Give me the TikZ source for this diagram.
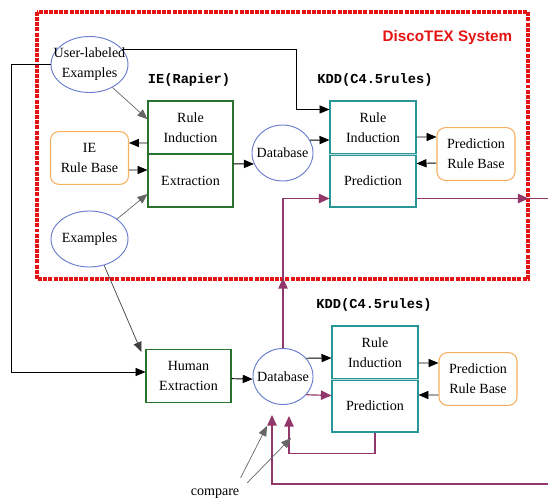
\documentclass[tikz,border=0pt]{standalone}
\usepackage{fontspec}
\setmainfont{Liberation Serif}
\setsansfont{Liberation Sans}
\setmonofont{Liberation Mono}
\usetikzlibrary{shapes.geometric,arrows.meta,decorations.markings}
\definecolor{ellblue}{RGB}{105,125,205}
\definecolor{iegreen}{RGB}{40,115,45}
\definecolor{kddteal}{RGB}{40,150,150}
\definecolor{rborange}{RGB}{245,175,95}
\definecolor{plum}{RGB}{145,55,105}
\definecolor{sysred}{RGB}{228,20,20}
\begin{document}
\begin{tikzpicture}[x=0.03cm, y=-0.03cm, font=\fontsize{12}{17}\selectfont,
   ell/.style={ellipse, draw=ellblue, line width=.8pt, minimum width=#1, minimum height=1.68cm, inner sep=0pt},
   iebox/.style={draw=iegreen, line width=.9pt, minimum width=2.55cm, minimum height=1.59cm, inner sep=0pt, align=center},
   kddbox/.style={draw=kddteal, line width=.9pt, minimum width=2.58cm, minimum height=1.59cm, inner sep=0pt, align=center},
   rbase/.style={draw=rborange, line width=.9pt, rounded corners=.25cm, minimum width=2.34cm, minimum height=1.58cm, inner sep=0pt, align=center},
   mono/.style={font=\fontsize{11.7}{14}\selectfont\ttfamily\bfseries},
   sysname/.style={font=\fontsize{13}{16}\selectfont\sffamily\bfseries, text=sysred},
   sysline/.style={draw=sysred, line width=2.8pt, dash pattern=on 3.4pt off 1pt},
   arr/.style={line width=.8pt, -{Triangle[length=8.5pt,width=7pt]}},
   garr/.style={draw=black!60, line width=.6pt, -{Triangle[length=8.5pt,width=7pt]}},
   parr/.style={color=plum, line width=1pt, -{Triangle[length=9pt,width=8pt]}},
   pmid/.style={postaction={decorate}, decoration={markings, mark=at position #1 with {\arrow{Triangle[length=9pt,width=8pt]}}}},
   sep/.style={draw=kddteal, line width=.6pt, double=kddteal!35, double distance=.7pt}]
   \useasboundingbox (0,0) rectangle (548,504);
   \draw[sysline] (37,12) rectangle (528,279);
   \node[sysname] (sysname) at (447.5,38) {DiscoTEX System};
   \node[ell=2.31cm] (userex) at (89.5,64.5) {};
   \node[align=center] (userextxt) at (userex) {User-labeled\\Examples};
   \node[ell=2.31cm] (examples) at (89.5,239) {};
   \node (examplestxt) at (examples) {Examples};
   \node[rbase] (ierb) at (89.5,158) {IE\\Rule Base};
   \node[mono] (ielab) at (189,80) {IE(Rapier)};
   \node[iebox] (ieind) at (190.5,127.5) {Rule\\Induction};
   \node[iebox] (ieext) at (190.5,180.5) {Extraction};
   \node[ell=1.83cm] (db1) at (282.5,153) {};
   \node (db1txt) at (db1) {Database};
   \node[mono] (kddlab1) at (375,80) {KDD(C4.5rules)};
   \node[kddbox] (kind1) at (373,127.5) {Rule\\Induction};
   \node[kddbox] (kpred1) at (373,180.5) {Prediction};
   \node[rbase] (prb1) at (476,154) {Prediction\\Rule Base};
   \node[iebox] (humext) at (188.5,376) {Human\\Extraction};
   \node[ell=1.8cm] (db2) at (283,376.5) {};
   \node (db2txt) at (db2) {Database};
   \node[mono] (kddlab2) at (374,305) {KDD(C4.5rules)};
   \node[kddbox] (kind2) at (375,352.5) {Rule\\Induction};
   \node[kddbox] (kpred2) at (375,405.5) {Prediction};
   \node[rbase] (prb2) at (478,379) {Prediction\\Rule Base};
   \node[inner sep=1pt] (compare) at (215,494) {compare};
   \coordinate (offr) at (560,484);
   \coordinate (cmpa) at (267,426);
   \coordinate (cmpb) at (291,438);
   \draw[sep] (kind1.south west) -- (kind1.south east);
   \draw[sep] (kind2.south west) -- (kind2.south east);
   \draw[garr] (userex.-45) -- ([yshift=.25cm]ieind.west);
   \draw[arr] ([yshift=-.465cm]ieind.west) -- ([yshift=.45cm]ierb.east);
   \draw[arr] ([yshift=-.36cm]ierb.east) -- ([yshift=.315cm]ieext.west);
   \draw[garr] (examples.36) -- ([yshift=-.405cm]ieext.west);
   \draw[arr] ([yshift=.5cm]ieext.east) -- (db1.201);
   \draw[arr] (db1.25) -- ([yshift=-.375cm]kind1.west);
   \draw[arr] (userex.25) -| ([xshift=-.99cm,yshift=-.27cm]kind1.north west) -- ([yshift=-.27cm]kind1.north west);
   \draw[arr] ([yshift=-.285cm]kind1.east) -- ([yshift=.51cm]prb1.west);
   \draw[arr] ([yshift=-.27cm]prb1.west) -- ([yshift=.51cm]kpred1.east);
   \draw[arr] (userex.west) -- ++(-39,0) |- ([yshift=.12cm]humext.west);
   \draw[garr, draw=black!75] (examples.-61) -- ([xshift=-.12cm,yshift=-.09cm]humext.north west);
   \draw[arr] ([yshift=-.08cm]humext.east) -- (db2.185);
   \draw[arr] (db2.38) -- ([yshift=-.165cm]kind2.west);
   \draw[parr] (db2.-38) -- ([yshift=.3cm]kpred2.west);
   \draw[arr] ([yshift=-.315cm]kind2.east) -- ([yshift=.48cm]prb2.west);
   \draw[arr] ([yshift=-.48cm]prb2.west) -- ([yshift=.315cm]kpred2.east);
   \draw[parr, pmid=2.1cm] (db2.north) |- ([yshift=-.54cm]kpred1.west);
   \draw[parr, pmid=3.36cm] ([yshift=-.54cm]kpred1.east) -| (offr) -| ([xshift=-.33cm,yshift=-.3cm]db2.south);
   \draw[parr] (kpred2.south) -- ++(0,21) -| ([xshift=.18cm,yshift=-.33cm]db2.south);
   \draw[garr] ([yshift=.3cm]compare.north east) -- (cmpa);
   \draw[garr] ([xshift=.2cm,yshift=.15cm]compare.north east) -- (cmpb);
\end{tikzpicture}
\end{document}
